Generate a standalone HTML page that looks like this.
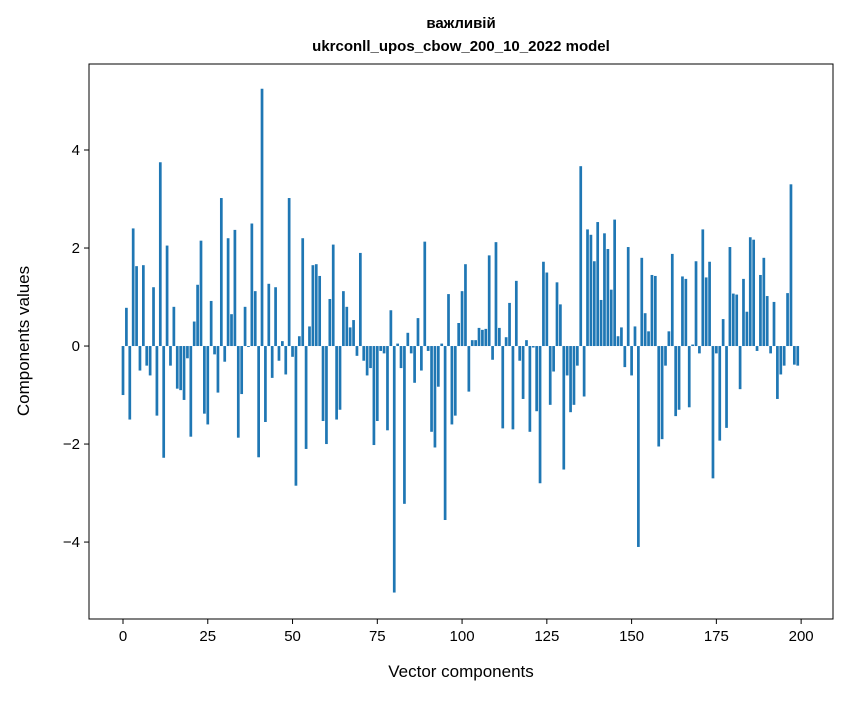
<!DOCTYPE html>
<html><head><meta charset="utf-8"><style>
body{margin:0;background:#fff;}
svg text{font-family:"Liberation Sans","DejaVu Sans",sans-serif;}
</style></head><body>
<svg id="chart" width="847" height="696">
<text x="461" y="28" text-anchor="middle" font-size="15" font-weight="bold">важливій</text>
<text x="461" y="51" text-anchor="middle" font-size="15" font-weight="bold">ukrconll_upos_cbow_200_10_2022 model</text>
<g id="bars"></g>
<rect x="89" y="64" width="744" height="555" fill="none" stroke="#000" stroke-width="1"/>
<g id="xt"></g>
<g id="yt"></g>
<text x="461" y="677" text-anchor="middle" font-size="17">Vector components</text>
<text transform="translate(29,341) rotate(-90)" text-anchor="middle" font-size="17">Components values</text>
</svg>
<script>
const values=[-1.0,0.78,-1.5,2.4,1.63,-0.5,1.65,-0.4,-0.6,1.2,-1.42,3.75,-2.28,2.05,-0.4,0.8,-0.87,-0.9,-1.1,-0.25,
-1.85,0.5,1.25,2.15,-1.38,-1.6,0.92,-0.17,-0.95,3.02,-0.32,2.2,0.65,2.37,-1.87,-0.98,0.8,-0.02,2.5,1.12,
-2.27,5.25,-1.55,1.27,-0.65,1.2,-0.3,0.1,-0.58,3.02,-0.22,-2.85,0.2,2.2,-2.1,0.4,1.65,1.67,1.43,-1.53,
-2.0,0.96,2.07,-1.5,-1.3,1.12,0.8,0.38,0.53,-0.2,1.9,-0.3,-0.6,-0.45,-2.02,-1.53,-0.1,-0.15,-1.72,0.73,
-5.03,0.05,-0.45,-3.22,0.27,-0.15,-0.75,0.57,-0.5,2.13,-0.1,-1.75,-2.07,-0.83,0.05,-3.55,1.06,-1.6,-1.42,0.47,
1.12,1.67,-0.93,0.12,0.12,0.37,0.33,0.35,1.85,-0.28,2.12,0.37,-1.68,0.18,0.88,-1.7,1.33,-0.3,-1.08,0.12,
-1.75,-0.03,-1.33,-2.8,1.72,1.5,-1.2,-0.52,1.3,0.85,-2.52,-0.6,-1.35,-1.2,-0.4,3.67,-1.03,2.38,2.27,1.73,
2.53,0.94,2.3,1.98,1.15,2.58,0.2,0.38,-0.43,2.02,-0.6,0.4,-4.1,1.8,0.67,0.3,1.45,1.43,-2.05,-1.9,
-0.4,0.3,1.88,-1.43,-1.3,1.42,1.37,-1.25,0.03,1.73,-0.15,2.38,1.4,1.72,-2.7,-0.15,-1.93,0.55,-1.67,2.02,
1.07,1.05,-0.88,1.37,0.7,2.22,2.17,-0.1,1.45,1.8,1.02,-0.15,0.9,-1.08,-0.58,-0.4,1.08,3.3,-0.38,-0.4];
const xTicks=[0,25,50,75,100,125,150,175,200];
const yTicks=[-4,-2,0,2,4];
const NS="http://www.w3.org/2000/svg";
const X0=89,X1=833,Y0=619,Y1=64,xmin=-10.03,xmax=209.4,ymin=-5.57,ymax=5.755;
const xs=v=>X0+(v-xmin)/(xmax-xmin)*(X1-X0);
const ys=v=>Y0-(v-ymin)/(ymax-ymin)*(Y0-Y1);
function mk(t,a,p){const e=document.createElementNS(NS,t);for(const k in a)e.setAttribute(k,a[k]);p.appendChild(e);return e;}
const bg=document.getElementById('bars');
values.forEach((v,i)=>{
 const x=xs(i-0.4),w=xs(i+0.4)-x,y=ys(Math.max(v,0)),h=Math.abs(ys(v)-ys(0));
 const r=mk('rect',{x:x,y:y,width:w,height:h,fill:'#1f77b4'},bg);
 
 
});
const xg=document.getElementById('xt');
xTicks.forEach(t=>{
 const x=xs(t);
 const l=mk('line',{x1:x,x2:x,y1:Y0,y2:Y0+5,stroke:'#000'},xg);
 
 
 const tx=mk('text',{x:x,y:Y0+22,'text-anchor':'middle','font-size':'15'},xg);
 tx.textContent=t;
 
 
});
const yg=document.getElementById('yt');
yTicks.forEach(t=>{
 const y=ys(t);
 const l=mk('line',{x1:X0-5,x2:X0,y1:y,y2:y,stroke:'#000'},yg);
 
 
 const tx=mk('text',{x:X0-9,y:y+5,'text-anchor':'end','font-size':'15'},yg);
 tx.textContent=t<0?'\u2212'+Math.abs(t):t;
 
 
});
</script>
</body></html>
